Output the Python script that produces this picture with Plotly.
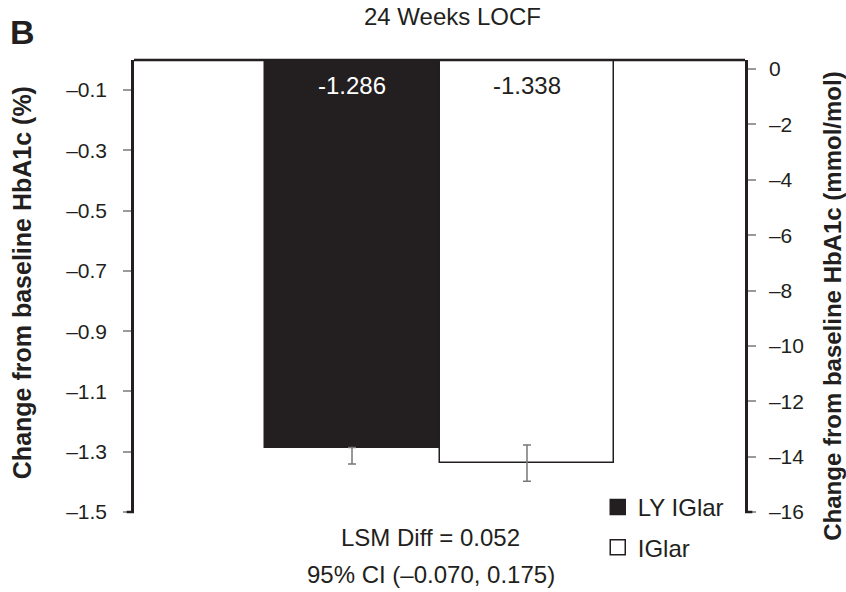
import plotly.graph_objects as go

# Least-squares mean change from baseline in HbA1c at 24 weeks (LOCF)
groups = ["LY IGlar", "IGlar"]
lsm_change_pct = [-1.286, -1.338]
se_pct = [0.055, 0.060]
bar_colors = ["#231f20", "#ffffff"]
label_colors = ["#ffffff", "#231f20"]

pct_ticks = [-0.1, -0.3, -0.5, -0.7, -0.9, -1.1, -1.3, -1.5]
mmol_ticks = [0, -2, -4, -6, -8, -10, -12, -14, -16]

def fmt(v):
    s = f"{abs(v):g}"
    return s if v == 0 else "\u2013" + s

TXT = "#231f20"
FONT = "Liberation Sans, Arial, Helvetica, sans-serif"

fig = go.Figure()
for i, g in enumerate(groups):
    # the dark bar hides the upper whisker, so only the lower half is drawn there
    upper = 0 if i == 0 else se_pct[i]
    fig.add_trace(go.Bar(
        x=[i], y=[lsm_change_pct[i]], base=0, name=g, width=0.99,
        showlegend=False,
        marker=dict(color=bar_colors[i], line=dict(color="#231f20", width=1.5)),
        error_y=dict(type="data", symmetric=False, array=[upper],
                     arrayminus=[se_pct[i]], color="#777777",
                     thickness=1.5, width=4),
        hoverinfo="skip",
    ))
    fig.add_annotation(x=i, y=0, yref="y", xref="x", yanchor="middle", yshift=-25,
                       text=f"{lsm_change_pct[i]:.3f}", showarrow=False,
                       font=dict(size=24, color=label_colors[i], family=FONT))

# legend swatches
for i, g in enumerate(groups):
    fig.add_trace(go.Scatter(
        x=[None], y=[None], mode="markers", name=g, legendgroup=g,
        marker=dict(symbol="square", size=15, color=bar_colors[i],
                    line=dict(color="#231f20", width=1.5)),
    ))

# invisible trace carrying the mmol/mol axis
fig.add_trace(go.Scatter(x=[0], y=[None], yaxis="y2", showlegend=False,
                         hoverinfo="skip"))

fig.update_layout(
    width=846, height=592,
    margin=dict(l=134, r=101, t=60, b=80),
    plot_bgcolor="white", paper_bgcolor="white",
    font=dict(family=FONT, color=TXT, size=20),
    bargap=0, barmode="overlay",
    showlegend=True,
    legend=dict(x=0.759, y=0.06, xanchor="left", yanchor="top",
                font=dict(size=24, color=TXT), traceorder="grouped",
                tracegroupgap=6, bgcolor="rgba(0,0,0,0)",
                itemsizing="trace"),
    xaxis=dict(range=[-1.246, 2.246], showticklabels=False, showgrid=False,
               zeroline=False, showline=False, ticks=""),
    yaxis=dict(range=[-1.5, 0.0], tickvals=pct_ticks,
               ticktext=[fmt(v) for v in pct_ticks],
               showgrid=False, zeroline=False,
               showline=True, linecolor="#231f20", linewidth=2.5,
               ticks="outside", ticklen=8, tickwidth=2, tickcolor="#9a9a9a",
               ticklabelstandoff=12, tickfont=dict(size=21)),
    yaxis2=dict(range=[-16, 0.33], overlaying="y", side="right",
                tickvals=mmol_ticks, ticktext=[fmt(v) for v in mmol_ticks],
                showgrid=False, zeroline=False,
                showline=True, linecolor="#231f20", linewidth=2.5,
                ticks="outside", ticklen=8, tickwidth=2, tickcolor="#9a9a9a",
                ticklabelstandoff=9, tickfont=dict(size=21)),
)

# axis titles
fig.add_annotation(xref="paper", yref="paper", x=-0.183, y=0.5, yshift=3,
                   text="<b>Change from baseline HbA1c (%)</b>", textangle=-90,
                   showarrow=False, xanchor="center", yanchor="middle",
                   font=dict(size=25, color=TXT))
fig.add_annotation(xref="paper", yref="paper", x=1.142, y=0.5, yshift=-20,
                   text="<b>Change from baseline HbA1c (mmol/mol)</b>", textangle=-90,
                   showarrow=False, xanchor="center", yanchor="middle",
                   font=dict(size=24, color=TXT))

# frame: top edge and bottom feet of both axes
fig.add_shape(type="line", xref="paper", yref="paper", x0=0, x1=1, y0=1, y1=1,
              line=dict(color="#231f20", width=2.5))
fig.add_shape(type="line", xref="paper", yref="paper", x0=-0.012, x1=0, y0=0, y1=0,
              line=dict(color="#231f20", width=2.5))
fig.add_shape(type="line", xref="paper", yref="paper", x0=1, x1=1.012, y0=0, y1=0,
              line=dict(color="#231f20", width=2.5))

fig.add_annotation(xref="paper", yref="paper", x=0.522, y=1, yshift=44,
                   text="24 Weeks LOCF", showarrow=False, yanchor="middle",
                   font=dict(size=24, color=TXT))
fig.add_annotation(xref="paper", yref="paper", x=-0.183, y=1, yshift=28,
                   text="<b>B</b>", showarrow=False, xanchor="center",
                   yanchor="middle", font=dict(size=34, color=TXT))
fig.add_annotation(xref="paper", yref="paper", x=0.486, y=0, yshift=-25,
                   text="LSM Diff = 0.052", showarrow=False, yanchor="middle",
                   font=dict(size=24, color=TXT))
fig.add_annotation(xref="paper", yref="paper", x=0.486, y=0, yshift=-62,
                   text="95% CI (\u20130.070, 0.175)", showarrow=False,
                   yanchor="middle", font=dict(size=24, color=TXT))

fig.write_html("out.html")
